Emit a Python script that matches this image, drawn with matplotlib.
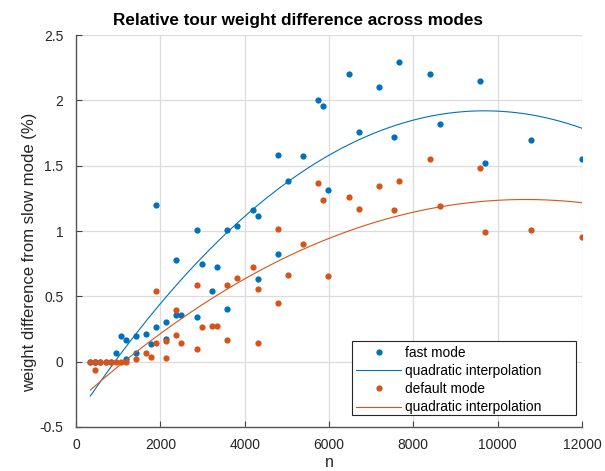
import numpy as np
import matplotlib
matplotlib.use('Agg')
import matplotlib.pyplot as plt
from matplotlib.patches import Rectangle

plt.rcParams['font.family'] = ['Liberation Sans', 'DejaVu Sans']

# fast mode (blue)
n_fast = [340, 460, 460, 580, 700, 820, 940, 1060, 1180, 1180, 1420, 1420,
          1660, 1780, 1900, 1900, 2140, 2140, 2380, 2380, 2500, 2860, 2860,
          2980, 3220, 3340, 3580, 3580, 3820, 4190, 4310, 4310, 4780, 4780,
          5030, 5380, 5740, 5860, 5980, 6470, 6710, 7190, 7550, 7670, 8390,
          8630, 9590, 9710, 10790, 11990]
w_fast = [0, 0, 0, 0, 0, 0, 0.063, 0.20, 0.165, 0.02, 0.196, 0.063,
          0.21, 0.134, 0.264, 1.198, 0.305, 0.17, 0.356, 0.779, 0.356, 0.343, 1.01,
          0.75, 0.537, 0.727, 0.40, 1.01, 1.04, 1.157, 1.117, 0.636, 0.827, 1.585,
          1.379, 1.575, 2.005, 1.96, 1.31, 2.20, 1.76, 2.10, 1.722, 2.295, 2.198,
          1.821, 2.147, 1.524, 1.70, 1.554]

# default mode (orange)
n_def = [340, 460, 460, 580, 700, 820, 940, 1060, 1180, 1420, 1660, 1780,
         1900, 1900, 2140, 2140, 2380, 2380, 2500, 2860, 2860, 2980, 3220,
         3340, 3580, 3580, 3820, 4190, 4310, 4310, 4780, 4780, 5030, 5380,
         5740, 5860, 5980, 6470, 6710, 7190, 7550, 7670, 8390, 8630, 9590,
         9710, 10790, 11990]
w_def = [0, 0, -0.066, 0, 0, 0, 0, 0, 0, 0.018, 0.063, 0.033,
         0.14, 0.544, 0.16, 0.027, 0.206, 0.397, 0.14, 0.095, 0.585, 0.264, 0.27,
         0.27, 0.163, 0.59, 0.638, 0.722, 0.557, 0.142, 0.447, 1.015, 0.661, 0.898,
         1.371, 1.237, 0.656, 1.264, 1.172, 1.343, 1.16, 1.386, 1.55, 1.19, 1.483,
         0.995, 1.005, 0.954]

blue = '#0072BD'
orange = '#D95319'
W, H = 605, 471

fig = plt.figure(figsize=(W / 100, H / 100), dpi=100)
ax = fig.add_axes([76 / W, 1 - 427 / H, 506 / W, 392 / H])

def quad_fit(n, w):
    p = np.polyfit(n, w, 2)
    xx = np.linspace(min(n), max(n), 200)
    return xx, np.polyval(p, xx)

ax.plot(n_fast, w_fast, 'o', color=blue, ms=4.5, mec='none', label='fast mode')
xf, yf = quad_fit(n_fast, w_fast)
ax.plot(xf, yf, color=blue, lw=0.8, label='quadratic interpolation')
ax.plot(n_def, w_def, 'o', color=orange, ms=4.5, mec='none', label='default mode')
xd, yd = quad_fit(n_def, w_def)
ax.plot(xd, yd, color=orange, lw=0.8, label='quadratic interpolation')

ax.set_xlim(0, 12000)
ax.set_ylim(-0.5, 2.5)
ax.set_xticks(np.arange(0, 12001, 2000))
ax.set_yticks(np.arange(-0.5, 2.51, 0.5))
ax.set_yticklabels(['-0.5', '0', '0.5', '1', '1.5', '2', '2.5'])
ax.grid(color='#dcdcdc', lw=0.9)
ax.set_axisbelow(True)
for s in ['top', 'right']:
    ax.spines[s].set_visible(False)
for s in ['left', 'bottom']:
    ax.spines[s].set_color('#555555')
    ax.spines[s].set_linewidth(1.0)
ax.tick_params(direction='in', length=4, width=0.8, color='#444444',
               labelsize=10, labelcolor='#262626')
ax.tick_params(axis='x', pad=8)
ax.tick_params(axis='y', pad=9)
ax.set_xlabel('n', fontsize=11.5, color='#262626')
ax.xaxis.set_label_coords(329 / W, 1 - 455 / H, transform=fig.transFigure)
ax.set_ylabel('weight difference from slow mode (%)', fontsize=12, color='#262626')
ax.yaxis.set_label_coords(37 / W, 1 - 252 / H, transform=fig.transFigure)
fig.text(298 / W, 1 - 21 / H, 'Relative tour weight difference across modes',
         ha='center', va='center', fontsize=12.3, fontweight='bold', color='black')

# legend box like the original
box = Rectangle((352 / W, 1 - 415 / H), 224 / W, 74 / H,
                transform=fig.transFigure, facecolor='white',
                edgecolor='#262626', lw=0.8, zorder=4, clip_on=False)
ax.add_artist(box)
leg = ax.legend(loc='upper left', bbox_to_anchor=(356 / W, 1 - 346 / H),
                bbox_transform=fig.transFigure, fontsize=9.9, frameon=False,
                handlelength=3.3, borderpad=0, labelspacing=0.3,
                handletextpad=0.25, borderaxespad=0)
leg.set_zorder(5)

fig.savefig('out.png', dpi=100)
